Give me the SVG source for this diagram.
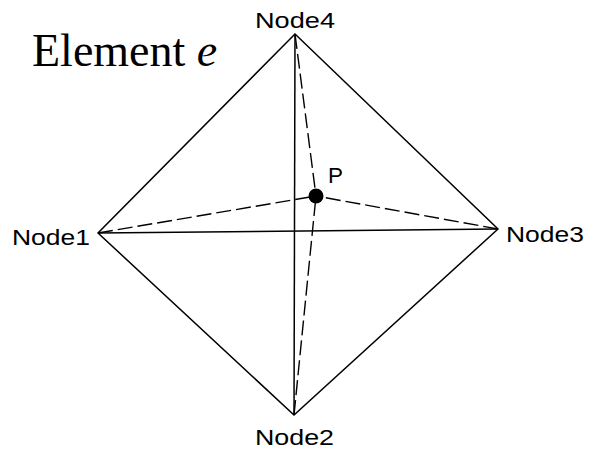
<svg xmlns="http://www.w3.org/2000/svg" width="589" height="450" viewBox="0 0 589 450">
<style>
.edge{stroke:#000;stroke-width:1.5;fill:none}
.dash{stroke:#000;stroke-width:1.4;fill:none;stroke-dasharray:15 5}
.lbl{font-family:"Liberation Sans",Arial,sans-serif;font-size:22px;fill:#000}
.title{font-family:"Liberation Serif","Times New Roman",serif;font-size:46px;fill:#000}
</style>
<rect width="589" height="450" fill="#fff"/>
<g id="connectors">
<path class="edge" d="M295,34 L98,233 L294,415 L498,229 Z"/>
<line class="edge" x1="98" y1="233" x2="498" y2="229"/>
<line class="edge" x1="295" y1="34" x2="294" y2="415"/>
<line class="dash" x1="98" y1="233" x2="316" y2="196"/>
<line class="dash" x1="498" y1="229" x2="316" y2="196"/>
<line class="dash" x1="295" y1="34" x2="316" y2="196"/>
<line class="dash" x1="294" y1="415" x2="316" y2="196"/>
</g>
<g id="node1"><text class="lbl" x="12" y="245" textLength="78" lengthAdjust="spacingAndGlyphs">Node1</text></g>
<g id="node2"><text class="lbl" x="255" y="445" textLength="79" lengthAdjust="spacingAndGlyphs">Node2</text></g>
<g id="node3"><text class="lbl" x="506" y="242" textLength="78" lengthAdjust="spacingAndGlyphs">Node3</text></g>
<g id="node4"><text class="lbl" x="255" y="28" textLength="80" lengthAdjust="spacingAndGlyphs">Node4</text></g>
<g id="pointP">
<circle cx="316" cy="196" r="7.5" fill="#000"/>
<text class="lbl" x="328" y="183" textLength="15" lengthAdjust="spacingAndGlyphs">P</text>
</g>
<g id="title"><text class="title" x="32" y="66">Element <tspan font-style="italic">e</tspan></text></g>
</svg>
